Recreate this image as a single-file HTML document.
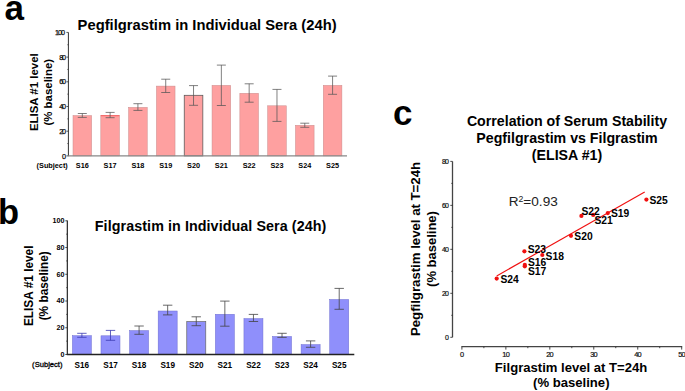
<!DOCTYPE html>
<html><head><meta charset="utf-8"><style>
html,body{margin:0;padding:0;background:#fff;width:685px;height:391px;overflow:hidden}
svg{display:block;font-family:"Liberation Sans", sans-serif}
</style></head><body>
<svg width="685" height="391" viewBox="0 0 685 391">
<rect width="685" height="391" fill="#fff"/>
<text x="4.6" y="19.8" font-size="35" font-weight="bold" text-anchor="start" fill="#000" >a</text>
<text x="77.6" y="30.1" font-size="14.75" font-weight="bold" text-anchor="start" fill="#000" >Pegfilgrastim in Individual Sera (24h)</text>
<text transform="translate(38.2,92.2) rotate(-90)" x="0" y="0" font-size="11.45" font-weight="bold" text-anchor="middle">ELISA #1 level</text>
<text transform="translate(52.0,92.2) rotate(-90)" x="0" y="0" font-size="11.45" font-weight="bold" text-anchor="middle">(% baseline)</text>
<rect x="73.0" y="115.6" width="18.6" height="40.30000000000001" fill="#fea0a0" stroke="#c98a8a" stroke-width="0.5"/>
<line x1="82.3" y1="113.5" x2="82.3" y2="117.4" stroke="#555" stroke-width="0.75"/>
<line x1="77.8" y1="113.5" x2="86.8" y2="113.5" stroke="#555" stroke-width="0.75"/>
<line x1="77.8" y1="117.4" x2="86.8" y2="117.4" stroke="#555" stroke-width="0.75"/>
<text x="82.3" y="168.3" font-size="7.3" font-weight="bold" text-anchor="middle" fill="#000" >S16</text>
<rect x="100.81" y="115.39999999999999" width="18.6" height="40.500000000000014" fill="#fea0a0" stroke="#c98a8a" stroke-width="0.5"/>
<line x1="100.81" y1="115.69999999999999" x2="119.41" y2="115.69999999999999" stroke="#f44" stroke-width="0.7"/>
<line x1="110.11" y1="112.4" x2="110.11" y2="117.7" stroke="#555" stroke-width="0.75"/>
<line x1="105.61" y1="112.4" x2="114.61" y2="112.4" stroke="#555" stroke-width="0.75"/>
<line x1="105.61" y1="117.7" x2="114.61" y2="117.7" stroke="#555" stroke-width="0.75"/>
<text x="110.11" y="168.3" font-size="7.3" font-weight="bold" text-anchor="middle" fill="#000" >S17</text>
<rect x="128.62" y="107.39999999999999" width="18.6" height="48.500000000000014" fill="#fea0a0" stroke="#c98a8a" stroke-width="0.5"/>
<line x1="137.92000000000002" y1="103.7" x2="137.92000000000002" y2="110.4" stroke="#555" stroke-width="0.75"/>
<line x1="133.42000000000002" y1="103.7" x2="142.42000000000002" y2="103.7" stroke="#555" stroke-width="0.75"/>
<line x1="133.42000000000002" y1="110.4" x2="142.42000000000002" y2="110.4" stroke="#555" stroke-width="0.75"/>
<text x="137.92000000000002" y="168.3" font-size="7.3" font-weight="bold" text-anchor="middle" fill="#000" >S18</text>
<rect x="156.43" y="86.1" width="18.6" height="69.80000000000001" fill="#fea0a0" stroke="#c98a8a" stroke-width="0.5"/>
<line x1="165.73000000000002" y1="79.2" x2="165.73000000000002" y2="92.5" stroke="#555" stroke-width="0.75"/>
<line x1="161.23000000000002" y1="79.2" x2="170.23000000000002" y2="79.2" stroke="#555" stroke-width="0.75"/>
<line x1="161.23000000000002" y1="92.5" x2="170.23000000000002" y2="92.5" stroke="#555" stroke-width="0.75"/>
<text x="165.73000000000002" y="168.3" font-size="7.3" font-weight="bold" text-anchor="middle" fill="#000" >S19</text>
<rect x="184.24" y="95.3" width="18.6" height="60.60000000000001" fill="#fea0a0" stroke="#555" stroke-width="0.75"/>
<line x1="193.54000000000002" y1="85.6" x2="193.54000000000002" y2="105.3" stroke="#555" stroke-width="0.75"/>
<line x1="189.04000000000002" y1="85.6" x2="198.04000000000002" y2="85.6" stroke="#555" stroke-width="0.75"/>
<line x1="189.04000000000002" y1="105.3" x2="198.04000000000002" y2="105.3" stroke="#555" stroke-width="0.75"/>
<text x="193.54000000000002" y="168.3" font-size="7.3" font-weight="bold" text-anchor="middle" fill="#000" >S20</text>
<rect x="212.04999999999998" y="85.39999999999999" width="18.6" height="70.50000000000001" fill="#fea0a0" stroke="#c98a8a" stroke-width="0.5"/>
<line x1="221.35" y1="65.1" x2="221.35" y2="105.5" stroke="#555" stroke-width="0.75"/>
<line x1="216.85" y1="65.1" x2="225.85" y2="65.1" stroke="#555" stroke-width="0.75"/>
<line x1="216.85" y1="105.5" x2="225.85" y2="105.5" stroke="#555" stroke-width="0.75"/>
<text x="221.35" y="168.3" font-size="7.3" font-weight="bold" text-anchor="middle" fill="#000" >S21</text>
<rect x="239.85999999999999" y="93.3" width="18.6" height="62.60000000000001" fill="#fea0a0" stroke="#c98a8a" stroke-width="0.5"/>
<line x1="249.16" y1="83.8" x2="249.16" y2="102.2" stroke="#555" stroke-width="0.75"/>
<line x1="244.66" y1="83.8" x2="253.66" y2="83.8" stroke="#555" stroke-width="0.75"/>
<line x1="244.66" y1="102.2" x2="253.66" y2="102.2" stroke="#555" stroke-width="0.75"/>
<text x="249.16" y="168.3" font-size="7.3" font-weight="bold" text-anchor="middle" fill="#000" >S22</text>
<rect x="267.66999999999996" y="105.8" width="18.6" height="50.10000000000001" fill="#fea0a0" stroke="#c98a8a" stroke-width="0.5"/>
<line x1="276.96999999999997" y1="89.4" x2="276.96999999999997" y2="121.4" stroke="#555" stroke-width="0.75"/>
<line x1="272.46999999999997" y1="89.4" x2="281.46999999999997" y2="89.4" stroke="#555" stroke-width="0.75"/>
<line x1="272.46999999999997" y1="121.4" x2="281.46999999999997" y2="121.4" stroke="#555" stroke-width="0.75"/>
<text x="276.96999999999997" y="168.3" font-size="7.3" font-weight="bold" text-anchor="middle" fill="#000" >S23</text>
<rect x="295.48" y="125.3" width="18.6" height="30.60000000000001" fill="#fea0a0" stroke="#c98a8a" stroke-width="0.5"/>
<line x1="304.78000000000003" y1="123.2" x2="304.78000000000003" y2="127.3" stroke="#555" stroke-width="0.75"/>
<line x1="300.28000000000003" y1="123.2" x2="309.28000000000003" y2="123.2" stroke="#555" stroke-width="0.75"/>
<line x1="300.28000000000003" y1="127.3" x2="309.28000000000003" y2="127.3" stroke="#555" stroke-width="0.75"/>
<text x="304.78000000000003" y="168.3" font-size="7.3" font-weight="bold" text-anchor="middle" fill="#000" >S24</text>
<rect x="323.28999999999996" y="85.39999999999999" width="18.6" height="70.50000000000001" fill="#fea0a0" stroke="#c98a8a" stroke-width="0.5"/>
<line x1="332.59" y1="76.1" x2="332.59" y2="94.3" stroke="#555" stroke-width="0.75"/>
<line x1="328.09" y1="76.1" x2="337.09" y2="76.1" stroke="#555" stroke-width="0.75"/>
<line x1="328.09" y1="94.3" x2="337.09" y2="94.3" stroke="#555" stroke-width="0.75"/>
<text x="332.59" y="168.3" font-size="7.3" font-weight="bold" text-anchor="middle" fill="#000" >S25</text>
<text x="67.8" y="168.3" font-size="7.3" font-weight="bold" text-anchor="end" fill="#000" >(Subject)</text>
<line x1="68.4" y1="32.4" x2="68.4" y2="155.9" stroke="#333" stroke-width="1"/>
<line x1="67.9" y1="155.9" x2="347" y2="155.9" stroke="#888" stroke-width="1.3"/>
<line x1="66.4" y1="155.9" x2="68.4" y2="155.9" stroke="#333" stroke-width="0.8"/>
<text x="66.1" y="158.5" font-size="7.3" font-weight="normal" text-anchor="end" fill="#111" stroke="#111" stroke-width="0.25" textLength="3.5" lengthAdjust="spacing">0</text>
<line x1="67.4" y1="143.55" x2="68.4" y2="143.55" stroke="#333" stroke-width="0.8"/>
<line x1="66.4" y1="131.2" x2="68.4" y2="131.2" stroke="#333" stroke-width="0.8"/>
<text x="66.1" y="133.79999999999998" font-size="7.3" font-weight="normal" text-anchor="end" fill="#111" stroke="#111" stroke-width="0.25" textLength="6.9" lengthAdjust="spacing">20</text>
<line x1="67.4" y1="118.85" x2="68.4" y2="118.85" stroke="#333" stroke-width="0.8"/>
<line x1="66.4" y1="106.5" x2="68.4" y2="106.5" stroke="#333" stroke-width="0.8"/>
<text x="66.1" y="109.1" font-size="7.3" font-weight="normal" text-anchor="end" fill="#111" stroke="#111" stroke-width="0.25" textLength="6.9" lengthAdjust="spacing">40</text>
<line x1="67.4" y1="94.15" x2="68.4" y2="94.15" stroke="#333" stroke-width="0.8"/>
<line x1="66.4" y1="81.8" x2="68.4" y2="81.8" stroke="#333" stroke-width="0.8"/>
<text x="66.1" y="84.39999999999999" font-size="7.3" font-weight="normal" text-anchor="end" fill="#111" stroke="#111" stroke-width="0.25" textLength="6.9" lengthAdjust="spacing">60</text>
<line x1="67.4" y1="69.45" x2="68.4" y2="69.45" stroke="#333" stroke-width="0.8"/>
<line x1="66.4" y1="57.099999999999994" x2="68.4" y2="57.099999999999994" stroke="#333" stroke-width="0.8"/>
<text x="66.1" y="59.699999999999996" font-size="7.3" font-weight="normal" text-anchor="end" fill="#111" stroke="#111" stroke-width="0.25" textLength="6.9" lengthAdjust="spacing">80</text>
<line x1="67.4" y1="44.75" x2="68.4" y2="44.75" stroke="#333" stroke-width="0.8"/>
<line x1="66.4" y1="32.39999999999999" x2="68.4" y2="32.39999999999999" stroke="#333" stroke-width="0.8"/>
<text x="65.1" y="34.99999999999999" font-size="7.3" font-weight="normal" text-anchor="end" fill="#111" stroke="#111" stroke-width="0.25" textLength="10.2" lengthAdjust="spacing">100</text>
<text x="-1.9" y="223.6" font-size="34.5" font-weight="bold" text-anchor="start" fill="#000" >b</text>
<text x="94.8" y="231" font-size="14.3" font-weight="bold" text-anchor="start" fill="#000"  textLength="231.5" lengthAdjust="spacing">Filgrastim in Individual Sera (24h)</text>
<text transform="translate(32.8,285.8) rotate(-90)" x="0" y="0" font-size="11.85" font-weight="bold" text-anchor="middle">ELISA #1 level</text>
<text transform="translate(47.5,285.8) rotate(-90)" x="0" y="0" font-size="11.85" font-weight="bold" text-anchor="middle">(% baseline)</text>
<rect x="72.4" y="335.7" width="19.0" height="18.80000000000001" fill="#8f8ffb" stroke="#6c6cd0" stroke-width="0.5"/>
<line x1="81.9" y1="333.3" x2="81.9" y2="337.3" stroke="#3a3ab0" stroke-width="0.8"/>
<line x1="77.2" y1="333.3" x2="86.60000000000001" y2="333.3" stroke="#3a3ab0" stroke-width="0.8"/>
<line x1="77.2" y1="337.3" x2="86.60000000000001" y2="337.3" stroke="#3a3ab0" stroke-width="0.8"/>
<text x="81.9" y="367.7" font-size="8.2" font-weight="bold" text-anchor="middle" fill="#000" >S16</text>
<rect x="100.99000000000001" y="335.8" width="19.0" height="18.69999999999999" fill="#8f8ffb" stroke="#6c6cd0" stroke-width="0.5"/>
<line x1="110.49000000000001" y1="330.4" x2="110.49000000000001" y2="340.3" stroke="#3a3ab0" stroke-width="0.8"/>
<line x1="105.79" y1="330.4" x2="115.19000000000001" y2="330.4" stroke="#3a3ab0" stroke-width="0.8"/>
<line x1="105.79" y1="340.3" x2="115.19000000000001" y2="340.3" stroke="#3a3ab0" stroke-width="0.8"/>
<text x="110.49000000000001" y="367.7" font-size="8.2" font-weight="bold" text-anchor="middle" fill="#000" >S17</text>
<rect x="129.58" y="330.6" width="19.0" height="23.899999999999977" fill="#8f8ffb" stroke="#6c6cd0" stroke-width="0.5"/>
<line x1="139.08" y1="326" x2="139.08" y2="334.3" stroke="#444" stroke-width="0.8"/>
<line x1="134.38000000000002" y1="326" x2="143.78" y2="326" stroke="#444" stroke-width="0.8"/>
<line x1="134.38000000000002" y1="334.3" x2="143.78" y2="334.3" stroke="#444" stroke-width="0.8"/>
<text x="139.08" y="367.7" font-size="8.2" font-weight="bold" text-anchor="middle" fill="#000" >S18</text>
<rect x="158.17000000000002" y="311.0" width="19.0" height="43.5" fill="#8f8ffb" stroke="#6c6cd0" stroke-width="0.5"/>
<line x1="167.67000000000002" y1="305.2" x2="167.67000000000002" y2="314.9" stroke="#444" stroke-width="0.8"/>
<line x1="162.97000000000003" y1="305.2" x2="172.37" y2="305.2" stroke="#444" stroke-width="0.8"/>
<line x1="162.97000000000003" y1="314.9" x2="172.37" y2="314.9" stroke="#444" stroke-width="0.8"/>
<text x="167.67000000000002" y="367.7" font-size="8.2" font-weight="bold" text-anchor="middle" fill="#000" >S19</text>
<rect x="186.76" y="321.6" width="19.0" height="32.89999999999998" fill="#8f8ffb" stroke="#666" stroke-width="0.7"/>
<line x1="196.26" y1="316.8" x2="196.26" y2="325.7" stroke="#444" stroke-width="0.8"/>
<line x1="191.56" y1="316.8" x2="200.95999999999998" y2="316.8" stroke="#444" stroke-width="0.8"/>
<line x1="191.56" y1="325.7" x2="200.95999999999998" y2="325.7" stroke="#444" stroke-width="0.8"/>
<text x="196.26" y="367.7" font-size="8.2" font-weight="bold" text-anchor="middle" fill="#000" >S20</text>
<rect x="215.35" y="314.3" width="19.0" height="40.19999999999999" fill="#8f8ffb" stroke="#6c6cd0" stroke-width="0.5"/>
<line x1="224.85" y1="301.1" x2="224.85" y2="326.2" stroke="#444" stroke-width="0.8"/>
<line x1="220.15" y1="301.1" x2="229.54999999999998" y2="301.1" stroke="#444" stroke-width="0.8"/>
<line x1="220.15" y1="326.2" x2="229.54999999999998" y2="326.2" stroke="#444" stroke-width="0.8"/>
<text x="224.85" y="367.7" font-size="8.2" font-weight="bold" text-anchor="middle" fill="#000" >S21</text>
<rect x="243.94" y="318.6" width="19.0" height="35.89999999999998" fill="#8f8ffb" stroke="#6c6cd0" stroke-width="0.5"/>
<line x1="253.44" y1="314.4" x2="253.44" y2="321.5" stroke="#444" stroke-width="0.8"/>
<line x1="248.74" y1="314.4" x2="258.14" y2="314.4" stroke="#444" stroke-width="0.8"/>
<line x1="248.74" y1="321.5" x2="258.14" y2="321.5" stroke="#444" stroke-width="0.8"/>
<text x="253.44" y="367.7" font-size="8.2" font-weight="bold" text-anchor="middle" fill="#000" >S22</text>
<rect x="272.53" y="336.5" width="19.0" height="18.0" fill="#8f8ffb" stroke="#6c6cd0" stroke-width="0.5"/>
<line x1="282.03" y1="333.3" x2="282.03" y2="337.4" stroke="#444" stroke-width="0.8"/>
<line x1="277.33" y1="333.3" x2="286.72999999999996" y2="333.3" stroke="#444" stroke-width="0.8"/>
<line x1="277.33" y1="337.4" x2="286.72999999999996" y2="337.4" stroke="#444" stroke-width="0.8"/>
<text x="282.03" y="367.7" font-size="8.2" font-weight="bold" text-anchor="middle" fill="#000" >S23</text>
<rect x="301.12" y="344.6" width="19.0" height="9.899999999999977" fill="#8f8ffb" stroke="#6c6cd0" stroke-width="0.5"/>
<line x1="310.62" y1="340.9" x2="310.62" y2="347.3" stroke="#444" stroke-width="0.8"/>
<line x1="305.92" y1="340.9" x2="315.32" y2="340.9" stroke="#444" stroke-width="0.8"/>
<line x1="305.92" y1="347.3" x2="315.32" y2="347.3" stroke="#444" stroke-width="0.8"/>
<text x="310.62" y="367.7" font-size="8.2" font-weight="bold" text-anchor="middle" fill="#000" >S24</text>
<rect x="329.71000000000004" y="299.5" width="19.0" height="55.0" fill="#8f8ffb" stroke="#6c6cd0" stroke-width="0.5"/>
<line x1="339.21000000000004" y1="288.4" x2="339.21000000000004" y2="309.3" stroke="#444" stroke-width="0.8"/>
<line x1="334.51000000000005" y1="288.4" x2="343.91" y2="288.4" stroke="#444" stroke-width="0.8"/>
<line x1="334.51000000000005" y1="309.3" x2="343.91" y2="309.3" stroke="#444" stroke-width="0.8"/>
<text x="339.21000000000004" y="367.7" font-size="8.2" font-weight="bold" text-anchor="middle" fill="#000" >S25</text>
<text x="62.5" y="366.6" font-size="7.6" font-weight="normal" text-anchor="end" fill="#000" stroke="#000" stroke-width="0.3">(Subject)</text>
<line x1="67.3" y1="220.5" x2="67.3" y2="354.5" stroke="#111" stroke-width="1.1"/>
<line x1="66.8" y1="354.5" x2="354.3" y2="354.5" stroke="#222" stroke-width="1.3"/>
<line x1="65.3" y1="354.5" x2="67.3" y2="354.5" stroke="#222" stroke-width="0.8"/>
<text x="64.4" y="356.8" font-size="7.2" font-weight="bold" text-anchor="end" fill="#000" >0</text>
<line x1="66.3" y1="341.13" x2="67.3" y2="341.13" stroke="#222" stroke-width="0.8"/>
<line x1="65.3" y1="327.76" x2="67.3" y2="327.76" stroke="#222" stroke-width="0.8"/>
<text x="64.4" y="330.06" font-size="7.2" font-weight="bold" text-anchor="end" fill="#000" >20</text>
<line x1="66.3" y1="314.39" x2="67.3" y2="314.39" stroke="#222" stroke-width="0.8"/>
<line x1="65.3" y1="301.02" x2="67.3" y2="301.02" stroke="#222" stroke-width="0.8"/>
<text x="64.4" y="303.32" font-size="7.2" font-weight="bold" text-anchor="end" fill="#000" >40</text>
<line x1="66.3" y1="287.65" x2="67.3" y2="287.65" stroke="#222" stroke-width="0.8"/>
<line x1="65.3" y1="274.28" x2="67.3" y2="274.28" stroke="#222" stroke-width="0.8"/>
<text x="64.4" y="276.58" font-size="7.2" font-weight="bold" text-anchor="end" fill="#000" >60</text>
<line x1="66.3" y1="260.90999999999997" x2="67.3" y2="260.90999999999997" stroke="#222" stroke-width="0.8"/>
<line x1="65.3" y1="247.54000000000002" x2="67.3" y2="247.54000000000002" stroke="#222" stroke-width="0.8"/>
<text x="64.4" y="249.84000000000003" font-size="7.2" font-weight="bold" text-anchor="end" fill="#000" >80</text>
<line x1="66.3" y1="234.17000000000002" x2="67.3" y2="234.17000000000002" stroke="#222" stroke-width="0.8"/>
<line x1="65.3" y1="220.8" x2="67.3" y2="220.8" stroke="#222" stroke-width="0.8"/>
<text x="64.4" y="223.10000000000002" font-size="7.2" font-weight="bold" text-anchor="end" fill="#000" >100</text>
<text x="392.9" y="124.8" font-size="35" font-weight="bold" text-anchor="start" fill="#000" >c</text>
<text x="567" y="126.2" font-size="14.2" font-weight="bold" text-anchor="middle" fill="#000" >Correlation of Serum Stability</text>
<text x="567" y="143.1" font-size="14.2" font-weight="bold" text-anchor="middle" fill="#000" >Pegfilgrastim vs Filgrastim</text>
<text x="567" y="159.6" font-size="14.2" font-weight="bold" text-anchor="middle" fill="#000" >(ELISA #1)</text>
<text transform="translate(420.2,249) rotate(-90)" x="0" y="0" font-size="13.2" font-weight="bold" text-anchor="middle">Pegfilgrastim level at T=24h</text>
<text transform="translate(436.3,249) rotate(-90)" x="0" y="0" font-size="13" font-weight="bold" text-anchor="middle">(% baseline)</text>
<text x="571.1" y="372.3" font-size="13.1" font-weight="bold" text-anchor="middle" fill="#000" >Filgrastim level at T=24h</text>
<text x="571.3" y="387.0" font-size="13.1" font-weight="bold" text-anchor="middle" fill="#000" >(% baseline)</text>
<line x1="452.5" y1="161.4" x2="452.5" y2="337.3" stroke="#444" stroke-width="1.3"/>
<line x1="450.3" y1="337.3" x2="452.5" y2="337.3" stroke="#222" stroke-width="0.8"/>
<text x="448.9" y="339.8" font-size="7" font-weight="normal" text-anchor="end" fill="#111" stroke="#111" stroke-width="0.2" textLength="3.4" lengthAdjust="spacing">0</text>
<line x1="451.3" y1="315.31" x2="452.5" y2="315.31" stroke="#222" stroke-width="0.8"/>
<line x1="450.3" y1="293.32" x2="452.5" y2="293.32" stroke="#222" stroke-width="0.8"/>
<text x="448.9" y="295.82" font-size="7" font-weight="normal" text-anchor="end" fill="#111" stroke="#111" stroke-width="0.2" textLength="6.9" lengthAdjust="spacing">20</text>
<line x1="451.3" y1="271.33000000000004" x2="452.5" y2="271.33000000000004" stroke="#222" stroke-width="0.8"/>
<line x1="450.3" y1="249.34000000000003" x2="452.5" y2="249.34000000000003" stroke="#222" stroke-width="0.8"/>
<text x="448.9" y="251.84000000000003" font-size="7" font-weight="normal" text-anchor="end" fill="#111" stroke="#111" stroke-width="0.2" textLength="6.9" lengthAdjust="spacing">40</text>
<line x1="451.3" y1="227.35000000000002" x2="452.5" y2="227.35000000000002" stroke="#222" stroke-width="0.8"/>
<line x1="450.3" y1="205.36" x2="452.5" y2="205.36" stroke="#222" stroke-width="0.8"/>
<text x="448.9" y="207.86" font-size="7" font-weight="normal" text-anchor="end" fill="#111" stroke="#111" stroke-width="0.2" textLength="6.9" lengthAdjust="spacing">60</text>
<line x1="451.3" y1="183.37000000000003" x2="452.5" y2="183.37000000000003" stroke="#222" stroke-width="0.8"/>
<line x1="450.3" y1="161.38000000000002" x2="452.5" y2="161.38000000000002" stroke="#222" stroke-width="0.8"/>
<text x="448.9" y="163.88000000000002" font-size="7" font-weight="normal" text-anchor="end" fill="#111" stroke="#111" stroke-width="0.2" textLength="6.9" lengthAdjust="spacing">80</text>
<line x1="461.4" y1="346.6" x2="682.2" y2="346.6" stroke="#444" stroke-width="1.3"/>
<line x1="461.9" y1="346.6" x2="461.9" y2="349.6" stroke="#333" stroke-width="0.9"/>
<text x="462.09999999999997" y="357.0" font-size="7.4" font-weight="normal" text-anchor="middle" fill="#111" stroke="#111" stroke-width="0.2" textLength="3.7" lengthAdjust="spacing">0</text>
<line x1="483.88" y1="346.6" x2="483.88" y2="348.20000000000005" stroke="#333" stroke-width="0.9"/>
<line x1="505.85999999999996" y1="346.6" x2="505.85999999999996" y2="349.6" stroke="#333" stroke-width="0.9"/>
<text x="506.05999999999995" y="357.0" font-size="7.4" font-weight="normal" text-anchor="middle" fill="#111" stroke="#111" stroke-width="0.2" textLength="7.4" lengthAdjust="spacing">10</text>
<line x1="527.8399999999999" y1="346.6" x2="527.8399999999999" y2="348.20000000000005" stroke="#333" stroke-width="0.9"/>
<line x1="549.8199999999999" y1="346.6" x2="549.8199999999999" y2="349.6" stroke="#333" stroke-width="0.9"/>
<text x="550.02" y="357.0" font-size="7.4" font-weight="normal" text-anchor="middle" fill="#111" stroke="#111" stroke-width="0.2" textLength="7.4" lengthAdjust="spacing">20</text>
<line x1="571.8" y1="346.6" x2="571.8" y2="348.20000000000005" stroke="#333" stroke-width="0.9"/>
<line x1="593.78" y1="346.6" x2="593.78" y2="349.6" stroke="#333" stroke-width="0.9"/>
<text x="593.98" y="357.0" font-size="7.4" font-weight="normal" text-anchor="middle" fill="#111" stroke="#111" stroke-width="0.2" textLength="7.4" lengthAdjust="spacing">30</text>
<line x1="615.76" y1="346.6" x2="615.76" y2="348.20000000000005" stroke="#333" stroke-width="0.9"/>
<line x1="637.74" y1="346.6" x2="637.74" y2="349.6" stroke="#333" stroke-width="0.9"/>
<text x="637.94" y="357.0" font-size="7.4" font-weight="normal" text-anchor="middle" fill="#111" stroke="#111" stroke-width="0.2" textLength="7.4" lengthAdjust="spacing">40</text>
<line x1="659.72" y1="346.6" x2="659.72" y2="348.20000000000005" stroke="#333" stroke-width="0.9"/>
<line x1="681.6999999999999" y1="346.6" x2="681.6999999999999" y2="349.6" stroke="#333" stroke-width="0.9"/>
<text x="681.9" y="357.0" font-size="7.4" font-weight="normal" text-anchor="middle" fill="#111" stroke="#111" stroke-width="0.2" textLength="7.4" lengthAdjust="spacing">50</text>
<line x1="496.7" y1="275.9" x2="644.7" y2="192.1" stroke="#f01010" stroke-width="1.15"/>
<circle cx="581.4" cy="215.9" r="2.1" fill="#f01010"/>
<circle cx="593.2" cy="214.9" r="2.1" fill="#f01010"/>
<circle cx="607.8" cy="213.1" r="2.1" fill="#f01010"/>
<circle cx="646.4" cy="199.6" r="2.1" fill="#f01010"/>
<circle cx="571" cy="235.8" r="2.1" fill="#f01010"/>
<circle cx="524.4" cy="251.3" r="2.1" fill="#f01010"/>
<circle cx="542.3" cy="255" r="2.1" fill="#f01010"/>
<circle cx="524.8" cy="264.9" r="2.1" fill="#f01010"/>
<circle cx="524.8" cy="266.3" r="2.1" fill="#f01010"/>
<circle cx="496.7" cy="278.6" r="2.1" fill="#f01010"/>
<text x="581.4" y="214.79999999999998" font-size="10.3" font-weight="bold" text-anchor="start" fill="#000" >S22</text>
<text x="594.5" y="224.0" font-size="10.3" font-weight="bold" text-anchor="start" fill="#000" >S21</text>
<text x="610.9" y="217.29999999999998" font-size="10.3" font-weight="bold" text-anchor="start" fill="#000" >S19</text>
<text x="649.5" y="203.89999999999998" font-size="10.3" font-weight="bold" text-anchor="start" fill="#000" >S25</text>
<text x="574.3" y="240.0" font-size="10.3" font-weight="bold" text-anchor="start" fill="#000" >S20</text>
<text x="527.6999999999999" y="252.89999999999998" font-size="10.3" font-weight="bold" text-anchor="start" fill="#000" >S23</text>
<text x="545.5999999999999" y="259.8" font-size="10.3" font-weight="bold" text-anchor="start" fill="#000" >S18</text>
<text x="528.0" y="265.8" font-size="10.3" font-weight="bold" text-anchor="start" fill="#000" >S16</text>
<text x="528.0" y="275.3" font-size="10.3" font-weight="bold" text-anchor="start" fill="#000" >S17</text>
<text x="500.40000000000003" y="283.4" font-size="10.3" font-weight="bold" text-anchor="start" fill="#000" >S24</text>
<text x="508.7" y="206.1" font-size="13.6" fill="#222">R<tspan font-size="8.7" dy="-4.6">2</tspan><tspan dy="4.6">=0.93</tspan></text>
</svg>
</body></html>
